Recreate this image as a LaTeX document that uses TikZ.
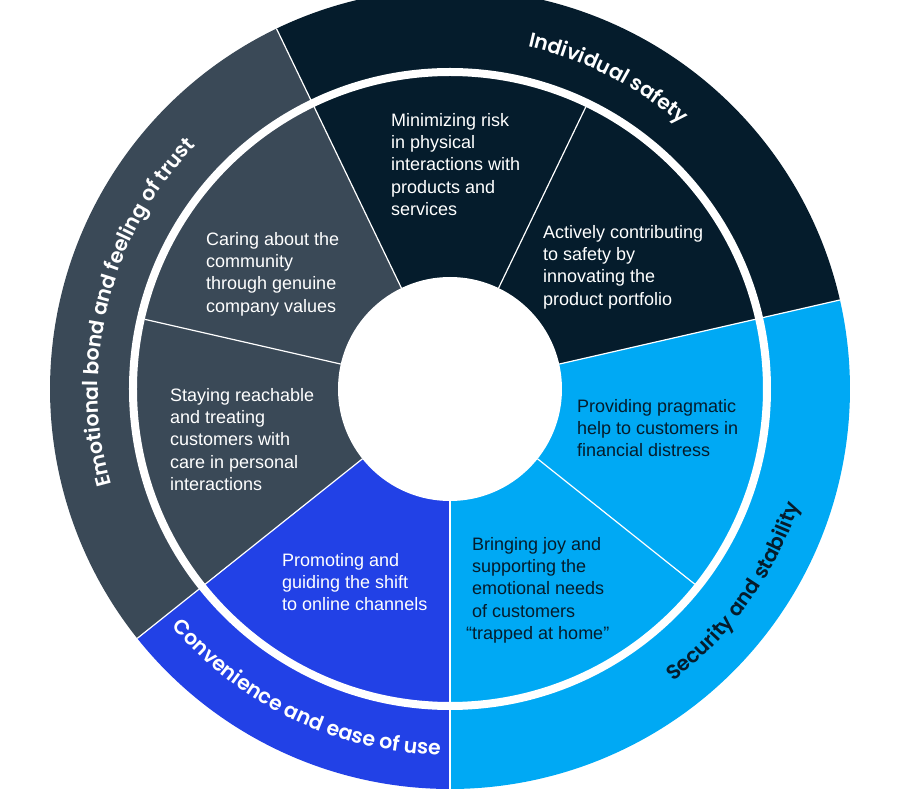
\documentclass[tikz,border=0pt]{standalone}
\usepackage{fontspec}
\setmainfont{Liberation Sans}
\IfFontExistsTF{Poppins SemiBold}{\newfontfamily\ringfont{Poppins SemiBold}}{\newfontfamily\ringfont{Poppins}[FakeBold=1.4]}
\usetikzlibrary{decorations.text}
\definecolor{deepnavy}{HTML}{051C2C}
\definecolor{slate}{HTML}{3A4957}
\definecolor{royal}{HTML}{2241E6}
\definecolor{cyanblue}{HTML}{00A9F4}
\begin{document}
\begin{tikzpicture}[x=1pt,y=1pt]
\tikzstyle{cell}=[anchor=north west, inner sep=0pt, align=left, font=\fontsize{18}{22.3}\selectfont]
\tikzstyle{sep}=[white, line width=1.2pt]
\tikzstyle{ring}=[decorate, decoration={text along path, text align=center}]
\clip (-450,-400) rectangle (448,389);
%
\fill[deepnavy] (0,0) -- (12.86:400) arc[start angle=12.86, end angle=115.71, radius=400] -- cycle;
\fill[slate] (0,0) -- (115.71:400) arc[start angle=115.71, end angle=218.57, radius=400] -- cycle;
\fill[royal] (0,0) -- (218.57:400) arc[start angle=218.57, end angle=270, radius=400] -- cycle;
\fill[cyanblue] (0,0) -- (270:400) arc[start angle=270, end angle=372.86, radius=400] -- cycle;
%
\draw[white, line width=8pt] (0,0) circle (317);
\foreach \a in {64.29, 167.14, 321.43} \draw[sep] (\a:112) -- (\a:313);
\foreach \a in {12.86, 115.71, 218.57, 270} \draw[sep] (\a:112) -- (\a:400);
\fill[white] (0,0) circle (112);
%
\node[cell, text=white] (risk) at (-59,276) {Minimizing risk\\in physical\\interactions with\\products and\\services};
\node[cell, text=white] (portfolio) at (93,164) {Actively contributing\\to safety by\\innovating the\\product portfolio};
\node[cell, text=deepnavy] (distress) at (127,-10) {Providing pragmatic\\help to customers in\\financial distress};
\node[cell, text=deepnavy] (home) at (22,-148) {Bringing joy and\\supporting the\\emotional needs\\of customers\\\llap{“}trapped at home”};
\node[cell, text=white] (online) at (-168,-164) {Promoting and\\guiding the shift\\to online channels};
\node[cell, text=white] (reach) at (-280,1) {Staying reachable\\and treating\\customers with\\care in personal\\interactions};
\node[cell, text=white] (values) at (-244,157) {Caring about the\\community\\through genuine\\company values};
%
\path[ring, decoration={text={|\ringfont\fontsize{20.5}{20.5}\selectfont\color{white}|Individual safety}}] (103:351) arc[start angle=103, end angle=23, radius=351];
\path[ring, decoration={text={|\ringfont\fontsize{20.5}{20.5}\selectfont\color{deepnavy}|Security and stability}}] (-85.5:368) arc[start angle=-85.5, end angle=14.5, radius=368];
\path[ring, decoration={text={|\ringfont\fontsize{20.5}{20.5}\selectfont\color{white}|Convenience and ease of use}}] (-165.5:366) arc[start angle=-165.5, end angle=-65.5, radius=366];
\path[ring, decoration={text={|\ringfont\fontsize{20.5}{20.5}\selectfont\color{white}|Emotional bond and feeling of trust}}] (216:352) arc[start angle=216, end angle=116, radius=352];
\end{tikzpicture}
\end{document}
